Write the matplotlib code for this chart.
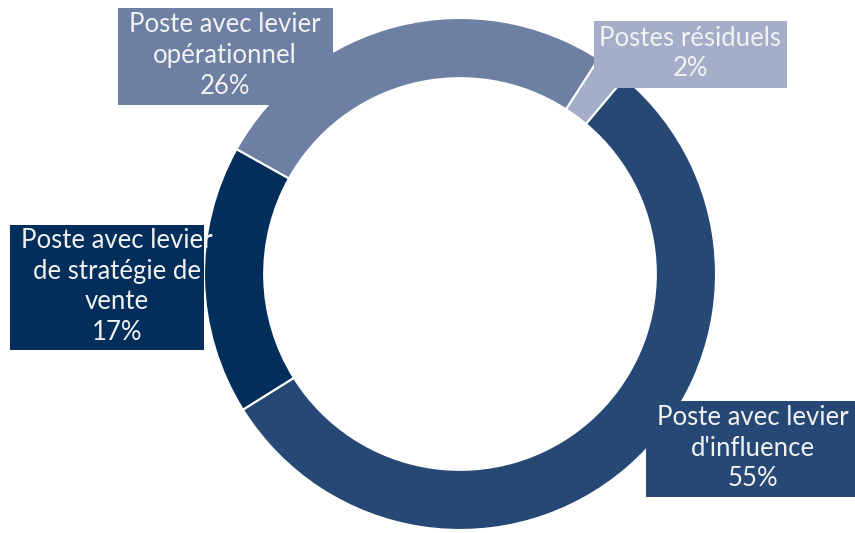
import matplotlib
matplotlib.use("Agg")
import matplotlib.pyplot as plt
from matplotlib.patches import Rectangle

categories = ["Poste avec levier\nd'influence", "Poste avec levier\nde stratégie de\nvente",
              "Poste avec levier\nopérationnel", "Postes résiduels"]
values = [55, 17, 26, 2]
colors = ["#264874", "#022E5B", "#6D7FA3", "#A4AEC9"]

# label boxes (x0, y0_top, x1, y1_bottom) in pixel coords from top-left
boxes = [(646, 401, 855, 497), (10, 225, 204, 350), (118, 8, 333, 105), (594, 21, 787, 88)]
text_x = [753, 117, 225, 690]

W, H = 855, 533
fig = plt.figure(figsize=(W / 100, H / 100), dpi=100)
ax = fig.add_axes([0, 0, 1, 1])

cx, cy, R = 460, H - 274, 256
ax.pie(values, colors=colors, startangle=50, counterclock=False,
       radius=R, center=(cx, cy), frame=True,
       wedgeprops=dict(width=R * 0.235, edgecolor="white", linewidth=1.5))
ax.set_xlim(0, W)
ax.set_ylim(0, H)
ax.set_aspect("equal")
ax.axis("off")

for cat, v, col, (x0, y0, x1, y1), tx in zip(categories, values, colors, boxes, text_x):
    ax.add_patch(Rectangle((x0, H - y1), x1 - x0, y1 - y0, facecolor=col,
                           edgecolor="none", zorder=5))
    ax.text(tx, H - (y0 + y1) / 2 + 1, f"{cat}\n{v}%", ha="center", va="center",
            color="#F2F2F2", fontsize=18.5, family="Lato",
            linespacing=1.28, zorder=6)

fig.savefig("out.png", dpi=100)
